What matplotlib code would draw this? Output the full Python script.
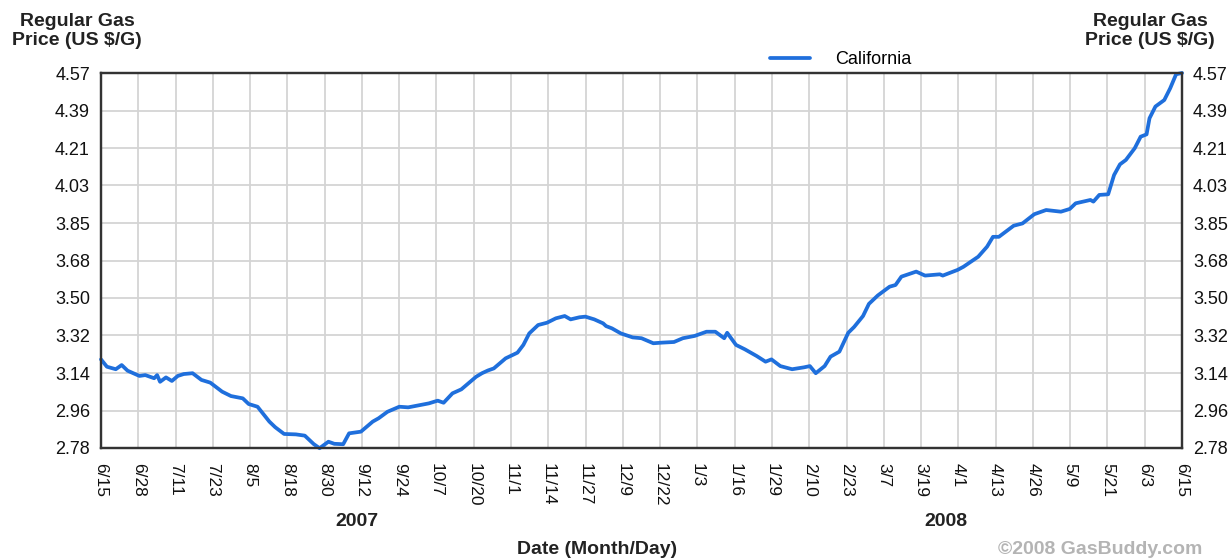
import matplotlib
matplotlib.use("Agg")
import matplotlib.pyplot as plt

# Days since 2007-06-15 and California regular gas price (US $/G)
days = [0, 2, 5, 7, 9, 13, 15, 18, 19, 20, 22, 24, 26, 28, 31, 34, 37, 41, 44, 48,
        50, 53, 57, 59, 62, 66, 69, 72, 74, 77, 79, 82, 84, 88, 92, 94, 97, 101, 104, 108,
        111, 114, 116, 119, 122, 127, 129, 131, 133, 137, 141, 143, 145, 148, 151, 154, 157, 159, 162, 164,
        167, 170, 171, 173, 176, 180, 183, 187, 190, 194, 197, 201, 205, 208, 211, 212, 215, 218, 222, 225,
        227, 230, 234, 238, 240, 242, 245, 247, 250, 253, 255, 258, 260, 263, 267, 269, 271, 276, 279, 284,
        285, 290, 292, 297, 300, 302, 304, 309, 312, 316, 320, 325, 328, 330, 335, 336, 338, 341, 343, 345,
        347, 350, 352, 354, 355, 357, 360, 362, 364, 366]
prices = [3.203, 3.168, 3.156, 3.176, 3.149, 3.124, 3.128, 3.113, 3.128, 3.096, 3.117, 3.100, 3.124, 3.133, 3.137, 3.105, 3.092, 3.049, 3.028, 3.017,
          2.990, 2.977, 2.906, 2.879, 2.847, 2.845, 2.839, 2.799, 2.779, 2.810, 2.800, 2.798, 2.850, 2.858, 2.906, 2.922, 2.953, 2.977, 2.974, 2.985,
          2.993, 3.006, 2.996, 3.041, 3.060, 3.120, 3.137, 3.150, 3.160, 3.208, 3.235, 3.272, 3.327, 3.367, 3.378, 3.399, 3.410, 3.394, 3.404, 3.407,
          3.394, 3.375, 3.362, 3.351, 3.327, 3.308, 3.304, 3.280, 3.283, 3.286, 3.304, 3.315, 3.335, 3.335, 3.304, 3.330, 3.272, 3.251, 3.219, 3.192,
          3.203, 3.171, 3.156, 3.165, 3.171, 3.137, 3.171, 3.216, 3.240, 3.330, 3.358, 3.410, 3.468, 3.508, 3.550, 3.558, 3.598, 3.622, 3.603, 3.609,
          3.603, 3.630, 3.645, 3.693, 3.741, 3.788, 3.788, 3.841, 3.852, 3.896, 3.916, 3.908, 3.921, 3.948, 3.964, 3.956, 3.988, 3.991, 4.083, 4.134,
          4.155, 4.211, 4.266, 4.277, 4.354, 4.410, 4.441, 4.497, 4.564, 4.570]

x_tick_labels = ["6/15", "6/28", "7/11", "7/23", "8/5", "8/18", "8/30", "9/12", "9/24", "10/7",
                 "10/20", "11/1", "11/14", "11/27", "12/9", "12/22", "1/3", "1/16", "1/29", "2/10",
                 "2/23", "3/7", "3/19", "4/1", "4/13", "4/26", "5/9", "5/21", "6/3", "6/15"]
y_tick_labels = ["2.78", "2.96", "3.14", "3.32", "3.50", "3.68", "3.85", "4.03", "4.21", "4.39", "4.57"]
series_name = "California"

plt.rcParams['font.family'] = ['Liberation Sans', 'DejaVu Sans']

W, H = 1231, 560
fig = plt.figure(figsize=(W / 100, H / 100), dpi=100)
ax = fig.add_axes([101 / W, 1 - 448 / H, (1182 - 101) / W, (448 - 73) / H])

ax.plot(days, prices, color='#1f6fdc', lw=2.7, solid_joinstyle='round', solid_capstyle='round',
        label=series_name, zorder=3, clip_on=False)

span = 366
n = len(x_tick_labels)
xt = [span * i / (n - 1) for i in range(n)]
ax.set_xlim(0, span)
ax.set_xticks(xt)
ax.set_xticklabels(x_tick_labels, rotation=270, fontsize=12.5, va='top', ha='center')

ymin, ymax = 2.78, 4.57
yt = [ymin + (ymax - ymin) * i / (len(y_tick_labels) - 1) for i in range(len(y_tick_labels))]
ax.set_ylim(ymin, ymax)
ax.set_yticks(yt)
ax.set_yticklabels(y_tick_labels, fontsize=13)
ax.tick_params(axis='both', length=0, colors='#111111')
ax.tick_params(axis='y', pad=8)
ax.tick_params(axis='x', pad=11)

ax2 = ax.twinx()
ax2.set_ylim(ymin, ymax)
ax2.set_yticks(yt)
ax2.set_yticklabels(y_tick_labels, fontsize=13)
ax2.tick_params(axis='y', length=0, pad=8, colors='#111111')

ax.grid(True, color='#d4d4d4', lw=1.3, zorder=0)
ax.set_axisbelow(True)
for a in (ax, ax2):
    for s in a.spines.values():
        s.set_color('#333333')
        s.set_linewidth(1.6)

fig.text(77 / W, 1 - 31 / H, "Regular Gas\nPrice (US $/G)", ha='center', va='center',
         fontsize=14, fontweight='bold', color='#222222', linespacing=1.15)
fig.text(1150 / W, 1 - 31 / H, "Regular Gas\nPrice (US $/G)", ha='center', va='center',
         fontsize=14, fontweight='bold', color='#222222', linespacing=1.15)

leg = ax.legend(loc='lower left', bbox_to_anchor=(770 / W, 1 - 68 / H), bbox_transform=fig.transFigure,
                frameon=False, fontsize=13, handlelength=2.2, handletextpad=1.4, borderaxespad=0,
                borderpad=0)

fig.text(357 / W, 1 - 521 / H, "2007", ha='center', va='center', fontsize=14, fontweight='bold', color='#222222')
fig.text(946 / W, 1 - 521 / H, "2008", ha='center', va='center', fontsize=14, fontweight='bold', color='#222222')
fig.text(597 / W, 1 - 550 / H, "Date (Month/Day)", ha='center', va='center', fontsize=14, fontweight='bold', color='#222222')
fig.text(1100 / W, 1 - 550 / H, "©2008 GasBuddy.com", ha='center', va='center', fontsize=14, fontweight='bold', color='#b4b4b4')

fig.savefig("out.png", dpi=100)
